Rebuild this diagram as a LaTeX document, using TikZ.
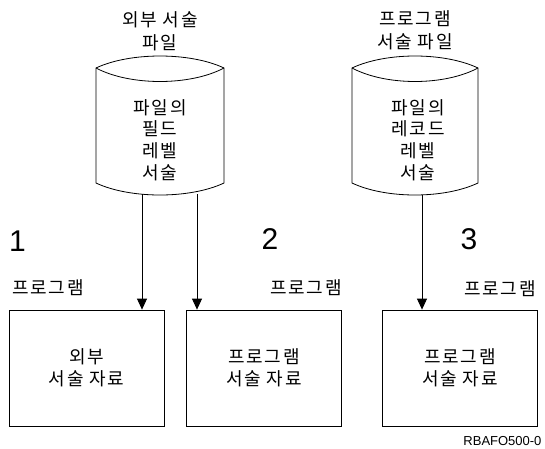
\documentclass[tikz,border=0pt]{standalone}
\usepackage{fontspec}
\setmainfont{Liberation Sans}
\newfontfamily\kr[LetterSpace=10]{Noto Sans CJK KR}
\usepackage{tikz}
\usetikzlibrary{arrows.meta,positioning}
\tikzstyle{desc} = [draw, line width=0.8pt, minimum width=155pt, minimum height=116pt, align=center, font=\kr\fontsize{18}{22}\selectfont]
\tikzstyle{cyltext} = [align=center, font=\kr\fontsize{18}{21.7}\selectfont]
\tikzstyle{lbl} = [align=center, font=\kr\fontsize{18}{23}\selectfont]
\tikzstyle{num} = [font=\fontsize{30}{30}\selectfont]
\tikzstyle{flow} = [-{Triangle[width=10pt,length=11pt]}, line width=0.8pt]

\begin{document}
\begin{tikzpicture}[x=1pt,y=-1pt]
\useasboundingbox (0,0) rectangle (545,448);
% files
\node[lbl] (extname) at (160,31) {외부 서술\\파일};
\node[lbl] (prgname) at (415,30) {프로그램\\서술 파일};
\draw[line width=0.8pt] (96,68) .. controls (130,52) and (190,52) .. (224,68) -- (224,183) .. controls (190,199) and (130,199) .. (96,183) -- cycle;
\draw[line width=0.8pt] (96,68) .. controls (130,86) and (190,86) .. (224,68);
\draw[line width=0.8pt] (352,68) .. controls (386,52) and (444,52) .. (478,68) -- (478,183) .. controls (444,199) and (386,199) .. (352,183) -- cycle;
\draw[line width=0.8pt] (352,68) .. controls (386,86) and (444,86) .. (478,68);
\node[cyltext] (extfile) at (160,140) {파일의\\필드\\레벨\\서술};
\node[cyltext] (prgfile) at (418,140) {파일의\\레코드\\레벨\\서술};
% descriptions
\node[desc] (ext) at (86.5,368) {외부\\서술 자료};
\node[desc] (prg) at (264,368) {프로그램\\서술 자료};
\node[desc] (rec) at (460,368) {프로그램\\서술 자료};
\node[num] (n1) at (17.5,241) {1};
\node[num] (n2) at (270,239) {2};
\node[num] (n3) at (469,239) {3};
\node[lbl] (p1) at (48,288) {프로그램};
\node[lbl] (p2) at (306,288) {프로그램};
\node[lbl] (p3) at (500,289) {프로그램};
% arrows
\coordinate (outA1) at (142,194);
\coordinate (outA2) at (197,194);
\coordinate (outB) at (422,195);
\draw[flow] (outA1) -- (outA1 |- ext.north);
\draw[flow] (outA2) -- (outA2 |- prg.north);
\draw[flow] (outB) -- (outB |- rec.north);
\node[anchor=east, font=\fontsize{13}{13}\selectfont] (fig) at (545,441) {RBAFO500-0};
\end{tikzpicture}
\end{document}
